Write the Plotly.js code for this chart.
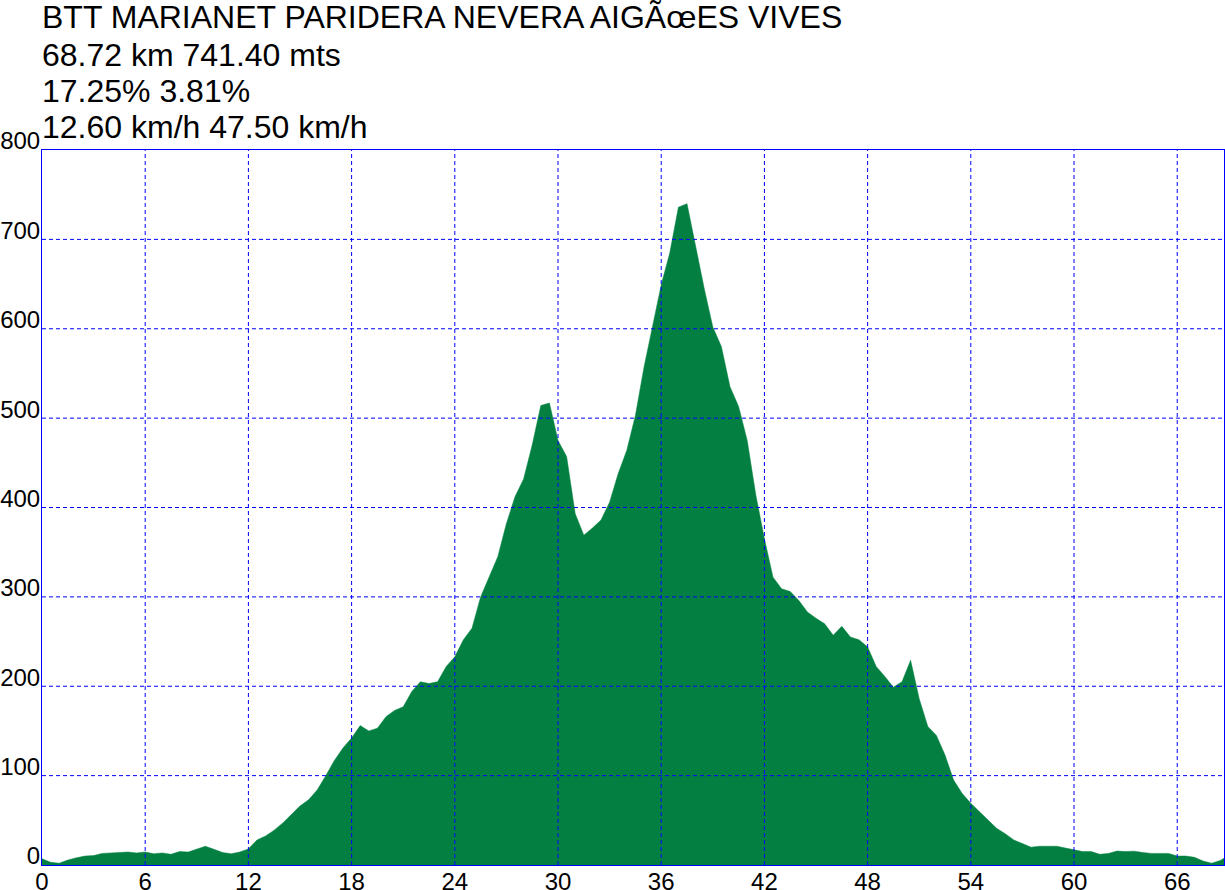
<!DOCTYPE html>
<html>
<head>
<meta charset="utf-8">
<script src="https://cdn.plot.ly/plotly-3.0.1.min.js"></script>
<style>
html,body{margin:0;padding:0;background:#fff;}
#chart{width:1225px;height:890px;}
</style>
</head>
<body>
<div id="chart"></div>
<script>
// Title lines
const titleLines = [
  "BTT MARIANET PARIDERA NEVERA AIGÃœES VIVES",
  "68.72 km 741.40 mts",
  "17.25% 3.81%",
  "12.60 km/h 47.50 km/h"
];

// Distance (km)
const distanceKm = [
  0,0.5,1,1.5,2,2.5,3,3.5,4,4.5,5,5.5,6,6.5,7,7.5,8,8.5,9,9.5,
  10,10.5,11,11.5,12,12.5,13,13.5,14,14.5,15,15.5,16,16.5,17,17.5,18,18.5,19,19.5,
  20,20.5,21,21.5,22,22.5,23,23.5,24,24.5,25,25.5,26,26.5,27,27.5,28,28.5,29,29.5,
  30,30.5,31,31.5,32,32.5,33,33.5,34,34.5,35,35.5,36,36.5,37,37.5,38,38.5,39,39.5,
  40,40.5,41,41.5,42,42.5,43,43.5,44,44.5,45,45.5,46,46.5,47,47.5,48,48.5,49,49.5,
  50,50.5,51,51.5,52,52.5,53,53.5,54,54.5,55,55.5,56,56.5,57,57.5,58,58.5,59,59.5,
  60,60.5,61,61.5,62,62.5,63,63.5,64,64.5,65,65.5,66,66.5,67,67.5,68,68.5,68.72
];

// Elevation (m)
const elevationM = [
  7,3,2,5.5,8,10,10.5,13,13.5,14,14.5,13.5,14.5,12.5,13.5,12,15,14.5,18,21,
  17.5,14,12.5,14.5,18,28,32.5,39,47,56,66,73,84,100,117,131,142,156,150,153,
  166,173,177,194,205,203,205,222,233,252,265,300,322,345,382,412,432,470,514,517,
  475,457,393,369,377,386,406,438,464,503,557,602,649,685,736,740,692,645,602,580,
  535,513,475,414,365,322,309,306,296,283,276,270,257,267,255,252,244,222,211,199,
  205,229,186,155,145,123,95,80,69,60,50,41,35,28,24,20,21,21,21,19,
  17,15,15,12,13,15.6,15,15.5,14,13,13,13,10,10,8.6,4.5,2,5,7.5
];

// Axis ticks
const xTickVals = [0,6,12,18,24,30,36,42,48,54,60,66];
const xTickText = ["0","6","12","18","24","30","36","42","48","54","60","66"];
const yTickVals = [0,100,200,300,400,500,600,700,800];
const yTickText = ["0","100","200","300","400","500","600","700","800"];

const xMax = 68.72, yMax = 800;
const gridColor = "rgb(0,0,255)";
const fillColor = "rgb(3,128,65)";

// grid lines on top of the fill, built from the tick arrays
const shapes = [];
xTickVals.filter(v => v > 0 && v < xMax).forEach(v => {
  shapes.push({type:"line", xref:"x", yref:"paper", x0:v, x1:v, y0:0, y1:1,
    layer:"above", line:{color:gridColor, width:1, dash:"4px,3px"}});
});
yTickVals.filter(v => v > 0 && v < yMax).forEach(v => {
  shapes.push({type:"line", xref:"paper", yref:"y", x0:0, x1:1, y0:v, y1:v,
    layer:"above", line:{color:gridColor, width:1, dash:"4px,3px"}});
});

const titleY = [1.186, 1.1329, 1.0825, 1.0322];
const annotations = titleLines.map((t, i) => ({
  text: t, xref:"paper", yref:"paper", x:0, y:titleY[i],
  xanchor:"left", yanchor:"middle", showarrow:false, xshift:-2,
  font:{family:"Liberation Sans, Arial, sans-serif", size:32, color:"#000"}
}));

const trace = {
  x: distanceKm, y: elevationM, type:"scatter", mode:"lines",
  fill:"tozeroy", fillcolor: fillColor,
  line:{color: fillColor, width:0.5}, hoverinfo:"x+y"
};

const layout = {
  width:1225, height:890,
  margin:{l:42, r:1, t:150, b:25, pad:0},
  paper_bgcolor:"#fff", plot_bgcolor:"#fff",
  showlegend:false,
  font:{family:"Liberation Sans, Arial, sans-serif", size:24, color:"#000"},
  xaxis:{range:[0,xMax], tickmode:"array", tickvals:xTickVals, ticktext:xTickText,
    showgrid:false, zeroline:false, showline:true, mirror:true, linecolor:gridColor, linewidth:1,
    ticks:"", tickfont:{size:24, color:"#000"}, ticklabelstandoff:-5, fixedrange:true},
  yaxis:{range:[0,yMax], tickmode:"array", tickvals:yTickVals, ticktext:yTickText,
    showgrid:false, zeroline:false, showline:true, mirror:true, linecolor:gridColor, linewidth:1,
    ticks:"", tickfont:{size:24, color:"#000"}, ticklabelshift:-9, ticklabelstandoff:-4, fixedrange:true},
  shapes: shapes,
  annotations: annotations
};

Plotly.newPlot("chart", [trace], layout, {displayModeBar:false, staticPlot:true});
</script>
</body>
</html>
